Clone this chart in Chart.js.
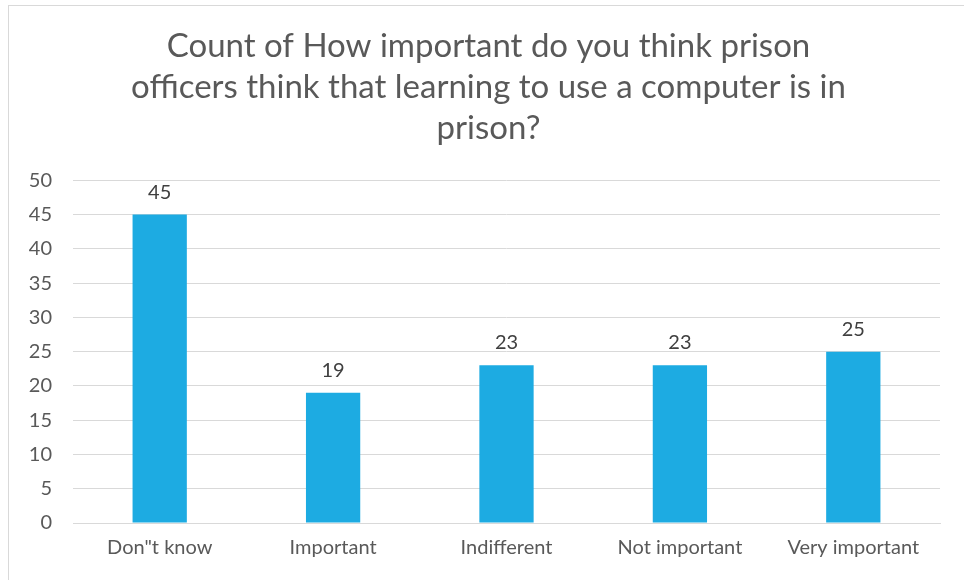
<!DOCTYPE html>
<html>
<head>
<meta charset="utf-8">
<script src="https://cdn.jsdelivr.net/npm/chart.js@4"></script>
<style>
    body { margin: 0; background: #fff; overflow: hidden; }
    #frame { position: absolute; left: 8px; top: 5px; width: 1000px; height: 620px; border: 1px solid #d9d9d9; }
    #wrap { position: absolute; left: 0; top: 0; width: 964px; height: 580px; }
</style>
</head>
<body>
<div id="frame"></div>
<div id="wrap"><canvas id="chart"></canvas></div>
<script>
// Chart data
const categories = ["Don\"t know", "Important", "Indifferent", "Not important", "Very important"];
const counts = [45, 19, 23, 23, 25];
const titleLines = [
    "Count of How important do you think prison",
    "officers think that learning to use a computer is in",
    "prison?"
];
const yTicks = [0, 5, 10, 15, 20, 25, 30, 35, 40, 45, 50];

const FONT = "Lato, 'Open Sans', sans-serif";

// Value labels above each bar
const barLabels = {
    id: "barLabels",
    afterDatasetsDraw(chart) {
        const ctx = chart.ctx;
        const meta = chart.getDatasetMeta(0);
        ctx.save();
        ctx.font = "20px " + FONT;
        ctx.fillStyle = "#404040";
        ctx.textAlign = "center";
        ctx.textBaseline = "alphabetic";
        meta.data.forEach((bar, i) => {
            ctx.fillText(String(counts[i]), bar.x, bar.y - 16);
        });
        ctx.restore();
    }
};

const ctx = document.getElementById("chart").getContext("2d");

new Chart(ctx, {
    type: "bar",
    data: {
        labels: categories,
        datasets: [{
            data: counts,
            backgroundColor: "#1dabe2",
            barPercentage: 0.313,
            categoryPercentage: 1.0
        }]
    },
    options: {
        responsive: true,
        maintainAspectRatio: false,
        animation: false,
        layout: { padding: { left: 13, right: 0, top: 6, bottom: 7 } },
        plugins: {
            legend: { display: false },
            tooltip: { enabled: false },
            title: {
                display: true,
                text: titleLines,
                color: "#595959",
                font: { family: FONT, size: 33, weight: "normal", lineHeight: 1.245 },
                padding: { top: 20, bottom: 31 }
            }
        },
        scales: {
            x: {
                grid: { display: false, drawTicks: false },
                border: { display: true, color: "#d9d9d9", width: 1 },
                ticks: { color: "#595959", font: { family: FONT, size: 20 }, padding: 13, maxRotation: 0 }
            },
            y: {
                min: 0,
                max: 50,
                afterBuildTicks(axis) {
                    axis.ticks = yTicks.map(v => ({ value: v }));
                },
                afterFit(axis) {
                    axis.width = 60;
                },
                grid: { color: "#d9d9d9", drawTicks: false },
                border: { display: false },
                ticks: { color: "#595959", font: { family: FONT, size: 20 }, padding: 21 }
            },
            // empty right-hand spacer so the title stays centred like the original
            spacer: {
                type: "linear",
                position: "right",
                afterFit(axis) {
                    axis.width = 24;
                },
                grid: { display: false, drawTicks: false },
                border: { display: false },
                ticks: { display: false }
            }
        }
    },
    plugins: [barLabels]
});
</script>
</body>
</html>
